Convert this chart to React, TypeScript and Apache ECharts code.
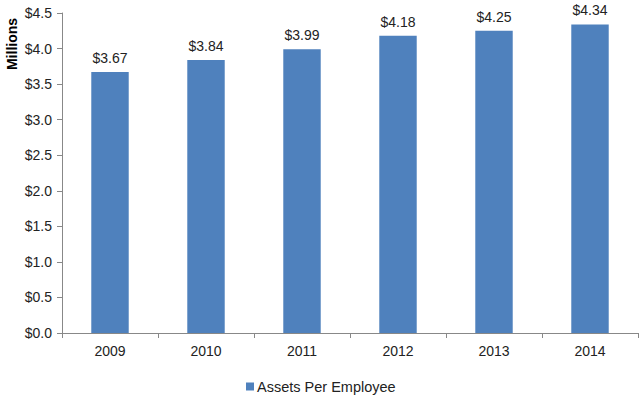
import React, { useEffect, useRef } from "react";
import * as echarts from "echarts";

const categories = ["2009", "2010", "2011", "2012", "2013", "2014"];
const values = [3.67, 3.84, 3.99, 4.18, 4.25, 4.34];
const seriesName = "Assets Per Employee";
const yAxisName = "Millions";

export default function App() {
  const ref = useRef<HTMLDivElement>(null);
  useEffect(() => {
    if (!ref.current) return;
    const chart = echarts.init(ref.current, null, { renderer: "svg" });
    const font = "'Liberation Sans', Arial, sans-serif";
    chart.setOption({
      animation: false,
      textStyle: { fontFamily: font },
      grid: { left: 62, right: 2, top: 13, bottom: 67, containLabel: false },
      graphic: [
        {
          type: "text",
          x: 12,
          y: 44,
          rotation: Math.PI / 2,
          style: {
            text: yAxisName,
            fontFamily: font,
            fontSize: 14,
            fontWeight: "bold",
            fill: "#000",
            align: "center",
            verticalAlign: "middle",
          },
        },
      ],
      legend: {
        top: 379,
        left: 246,
        padding: 0,
        itemWidth: 8,
        itemHeight: 8,
        icon: "rect",
        itemGap: 4,
        textStyle: { fontFamily: font, fontSize: 14.5, color: "#222", padding: [0, 0, 0, -2] },
        data: [seriesName],
      },
      xAxis: {
        type: "category",
        data: categories,
        axisLine: { lineStyle: { color: "#888", width: 1 } },
        axisTick: { show: true, alignWithLabel: false, length: 5, lineStyle: { color: "#888" } },
        axisLabel: { color: "#222", fontSize: 14, fontFamily: font, margin: 11 },
      },
      yAxis: {
        type: "value",
        min: 0,
        max: 4.5,
        interval: 0.5,
        axisLine: { show: true, lineStyle: { color: "#888", width: 1 } },
        axisTick: { show: true, length: 5, lineStyle: { color: "#888" } },
        splitLine: { show: false },
        axisLabel: {
          color: "#222",
          fontSize: 14,
          fontFamily: font,
          margin: 10,
          formatter: (v: number) => "$" + v.toFixed(1),
        },
      },
      series: [
        {
          name: seriesName,
          type: "bar",
          data: values,
          barCategoryGap: "61%",
          itemStyle: { color: "#4F81BD" },
          label: {
            show: true,
            position: "top",
            distance: 7,
            color: "#222",
            fontSize: 14,
            fontFamily: font,
            formatter: (p: any) => "$" + Number(p.value).toFixed(2),
          },
        },
      ],
    });
    return () => chart.dispose();
  }, []);
  return <div ref={ref} style={{ width: 640, height: 400, position: "absolute", left: 0, top: 0 }} />;
}
